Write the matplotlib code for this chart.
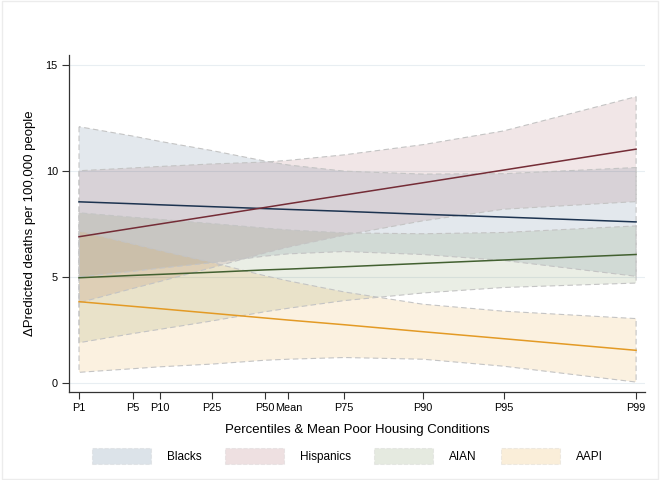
import matplotlib
matplotlib.use("Agg")
import matplotlib.pyplot as plt
from matplotlib.patches import Patch, Rectangle

plt.rcParams['font.family'] = ['Liberation Sans', 'DejaVu Sans']

# x positions (poor housing conditions) for the evaluation points
tick_labels = ["P1", "P5", "P10", "P25", "P50", "Mean", "P75", "P90", "P95", "P99"]
x_vals = [10.0, 11.92, 12.89, 14.78, 16.66, 17.52, 19.52, 22.34, 25.24, 30.0]

groups = ["Blacks", "Hispanics", "AIAN", "AAPI"]

blacks_est = [8.55, 8.46, 8.41, 8.32, 8.23, 8.19, 8.10, 7.96, 7.83, 7.60]
blacks_lo = [5.00, 5.26, 5.41, 5.67, 5.98, 6.09, 6.20, 6.06, 5.78, 5.03]
blacks_hi = [12.10, 11.66, 11.41, 10.97, 10.48, 10.29, 10.00, 9.86, 9.88, 10.17]

hisp_est = [6.90, 7.30, 7.50, 7.89, 8.28, 8.46, 8.87, 9.45, 10.05, 11.04]
hisp_lo = [3.78, 4.45, 4.78, 5.44, 6.13, 6.41, 6.97, 7.65, 8.20, 8.56]
hisp_hi = [10.02, 10.15, 10.22, 10.34, 10.43, 10.51, 10.77, 11.25, 11.90, 13.52]

aian_est = [4.96, 5.07, 5.12, 5.22, 5.33, 5.37, 5.48, 5.64, 5.80, 6.06]
aian_lo = [1.89, 2.32, 2.52, 2.92, 3.35, 3.52, 3.88, 4.24, 4.50, 4.71]
aian_hi = [8.03, 7.82, 7.72, 7.52, 7.31, 7.22, 7.08, 7.04, 7.10, 7.41]

aapi_est = [3.83, 3.61, 3.50, 3.28, 3.06, 2.96, 2.74, 2.41, 2.08, 1.53]
aapi_lo = [0.49, 0.66, 0.75, 0.88, 1.06, 1.11, 1.19, 1.11, 0.78, 0.03]
aapi_hi = [7.17, 6.56, 6.25, 5.68, 5.06, 4.81, 4.29, 3.71, 3.38, 3.03]

band_colors = ["#1a476f", "#90353b", "#55752f", "#e38f00"]
line_colors = ["#1c3350", "#742c36", "#426030", "#e39a25"]
ests = [blacks_est, hisp_est, aian_est, aapi_est]
los = [blacks_lo, hisp_lo, aian_lo, aapi_lo]
his = [blacks_hi, hisp_hi, aian_hi, aapi_hi]

fig = plt.figure(figsize=(6.6, 4.8), dpi=100)
fig.patch.set_facecolor("white")
ax = fig.add_axes([69/660, 1-392/480, (645-69)/660, (392-55)/480])

# bands
for lo, hi, c in zip(los, his, band_colors):
    ax.fill_between(x_vals, lo, hi, facecolor=c, alpha=0.12, edgecolor="none", zorder=2)
    ax.fill_between(x_vals, lo, hi, facecolor="none", edgecolor="#c4c4c4",
                    linestyle=(0, (5, 3)), linewidth=0.8, zorder=3)
# lines
for est, c in zip(ests, line_colors):
    ax.plot(x_vals, est, color=c, lw=1.1, zorder=4)

ax.set_xlim(9.64, 30.32)
ax.set_ylim(-0.44, 15.49)
ax.set_yticks([0, 5, 10, 15])
ax.set_yticklabels(["0", "5", "10", "15"], fontsize=7.8)
ax.set_xticks(x_vals)
ax.set_xticklabels(tick_labels, fontsize=7.8)
ax.tick_params(axis="both", direction="out", length=5, width=0.8, color="#333333", pad=3)
ax.grid(axis="y", color="#e8eef2", lw=0.8, zorder=0)
ax.set_axisbelow(True)
for s in ["top", "right"]:
    ax.spines[s].set_visible(False)
for s in ["left", "bottom"]:
    ax.spines[s].set_color("#333333")
    ax.spines[s].set_linewidth(0.9)

ax.set_xlabel("Percentiles & Mean Poor Housing Conditions", fontsize=9.5, labelpad=8)
ax.set_ylabel("\u0394Predicted deaths per 100,000 people", fontsize=9.5, labelpad=7)

handles = [Patch(facecolor=c, alpha=0.15, edgecolor="#999999", linestyle="--", linewidth=0.8)
           for c in band_colors]
fig.legend(handles, groups, loc="center", bbox_to_anchor=(347/660, 1-456/480), ncol=4,
           frameon=False, fontsize=8.5, handlelength=5.0, handleheight=1.8,
           columnspacing=2.0, handletextpad=1.35)

fig.add_artist(Rectangle((0.003, 0.003), 0.994, 0.994, transform=fig.transFigure,
                         fill=False, edgecolor="#ececec", lw=1.0))

fig.savefig("out.png", dpi=100)
